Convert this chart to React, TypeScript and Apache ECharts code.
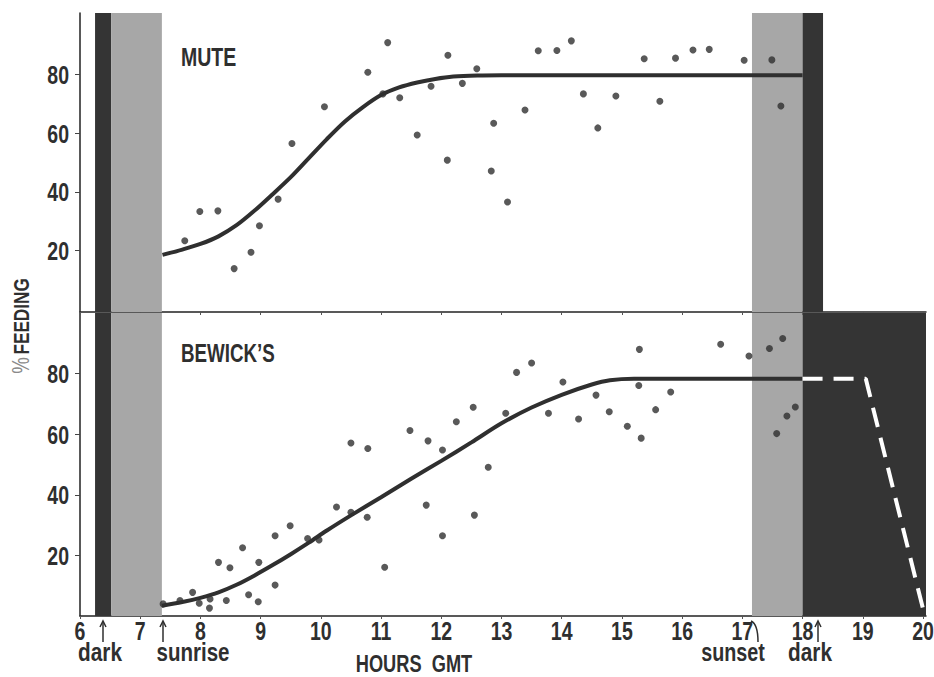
import React, { useEffect, useRef } from "react";
import * as echarts from "echarts";

const hourTicks = [6, 7, 8, 9, 10, 11, 12, 13, 14, 15, 16, 17, 18, 19, 20];
const pctTicks = [20, 40, 60, 80];

const mutePoints: number[][] = [
  [7.74, 23.3], [7.99, 33.3], [8.29, 33.5], [8.56, 13.8], [8.84, 19.4], [8.98, 28.4],
  [9.29, 37.5], [9.52, 56.5], [10.06, 69.0], [10.78, 80.8], [11.11, 90.9], [11.03, 73.4],
  [11.31, 72.1], [11.6, 59.4], [11.83, 76.0], [12.11, 86.6], [12.1, 50.8], [12.35, 77.0],
  [12.59, 82.0], [12.87, 63.4], [12.83, 47.1], [13.1, 36.5], [13.39, 67.9], [13.61, 88.1],
  [13.92, 88.2], [14.16, 91.5], [14.36, 73.4], [14.6, 61.8], [14.9, 72.7], [15.37, 85.4],
  [15.63, 70.9], [15.89, 85.6], [16.18, 88.4], [16.45, 88.6], [17.03, 84.9], [17.49, 85.0],
  [17.64, 69.3],
];

const bewickPoints: number[][] = [
  [7.38, 4.0], [7.66, 5.1], [7.87, 7.8], [7.98, 4.2], [8.15, 2.6], [8.16, 5.6], [8.3, 17.7],
  [8.43, 5.1], [8.49, 15.9], [8.7, 22.5], [8.8, 7.0], [8.96, 4.7], [8.97, 17.7], [9.24, 26.5],
  [9.24, 10.2], [9.49, 29.8], [9.78, 25.6], [9.97, 25.1], [10.26, 36.0], [10.5, 57.1],
  [10.5, 34.2], [10.78, 55.3], [10.77, 32.6], [11.06, 16.1], [11.48, 61.2], [11.78, 57.8],
  [11.75, 36.6], [12.02, 54.8], [12.02, 26.5], [12.25, 64.1], [12.53, 68.9], [12.55, 33.3],
  [12.78, 49.1], [13.07, 66.9], [13.25, 80.4], [13.5, 83.5], [13.78, 66.9], [14.02, 77.2],
  [14.28, 65.0], [14.57, 72.9], [14.79, 67.4], [15.09, 62.6], [15.29, 88.0], [15.28, 76.1],
  [15.32, 58.7], [15.56, 68.1], [15.81, 73.9], [16.64, 89.7], [17.11, 85.8], [17.45, 88.3],
  [17.67, 91.6], [17.57, 60.2], [17.74, 66.0], [17.88, 69.0],
];

const muteCurve: number[][] = [
  [7.37, 18.5], [7.7, 20.3], [8.0, 22.2], [8.3, 24.8], [8.6, 28.6], [8.9, 33.6], [9.2, 39.2],
  [9.5, 45.0], [9.8, 51.5], [10.1, 58.0], [10.4, 64.0], [10.7, 68.9], [11.0, 73.0], [11.3, 75.6],
  [11.6, 77.3], [11.9, 78.5], [12.2, 79.3], [12.6, 79.7], [13.0, 79.8], [18.0, 79.8],
];

const bewickCurve: number[][] = [
  [7.36, 3.4], [7.7, 4.6], [8.0, 6.0], [8.3, 7.8], [8.6, 10.3], [8.9, 13.4], [9.2, 16.8],
  [9.5, 20.4], [9.8, 24.2], [10.1, 28.2], [10.5, 33.2], [11.0, 39.2], [11.5, 45.3], [12.0, 51.2],
  [12.5, 57.3], [13.0, 63.6], [13.5, 68.8], [14.0, 73.0], [14.5, 76.4], [14.8, 77.8], [15.2, 78.3],
  [18.0, 78.3],
];

const bewickProjected: number[][] = [[18.0, 78.3], [19.05, 78.3], [20.03, 0]];

const darkMorning = [6.25, 6.52];
const twilightMorning = [6.52, 7.36];
const twilightEvening = [17.16, 18.0];
const darkEveningMute = [18.0, 18.34];
const darkEveningBewick = [18.0, 20.05];

const FONT = "'Liberation Sans', Arial, sans-serif";
const INK = "#2f2f2f";
const DARK = "#343434";
const GREY = "#a7a7a7";
const SQUEEZE = 0.78;

export default function App() {
  const ref = useRef<HTMLDivElement>(null);
  useEffect(() => {
    if (!ref.current) return;
    const chart = echarts.init(ref.current, undefined, { renderer: "svg" });

    const band = (r: number[], color: string) => [
      { xAxis: r[0], itemStyle: { color } },
      { xAxis: r[1] },
    ];

    const xAxisBase = {
      type: "value",
      min: 6,
      max: 20.05,
      splitLine: { show: false },
      axisLabel: { show: false },
      axisLine: { show: true, onZero: false, lineStyle: { color: "#222", width: 1.5 } },
      axisTick: { show: true, length: 3, customValues: hourTicks, lineStyle: { color: "#555" } },
    };
    const yAxisBase = {
      type: "value",
      splitLine: { show: false },
      axisLine: { show: true, lineStyle: { color: "#222", width: 1.5 } },
      axisTick: { show: true, length: 5, customValues: pctTicks, lineStyle: { color: "#444" } },
      axisLabel: { show: false },
    };

    const option: any = {
      animation: false,
      backgroundColor: "#fff",
      grid: [
        { left: 80, right: 8, top: 13, height: 299, outerBoundsMode: "none" },
        { left: 80, right: 8, top: 313, height: 303, outerBoundsMode: "none" },
      ],
      xAxis: [
        { ...xAxisBase, gridIndex: 0 },
        { ...xAxisBase, gridIndex: 1 },
      ],
      yAxis: [
        { ...yAxisBase, gridIndex: 0, min: -1, max: 101 },
        { ...yAxisBase, gridIndex: 1, min: 0, max: 100 },
      ],
      series: [
        {
          type: "scatter", xAxisIndex: 0, yAxisIndex: 0, data: [], z: 1, silent: true,
          markArea: {
            silent: true, label: { show: false },
            data: [band(darkMorning, DARK), band(twilightMorning, GREY), band(twilightEvening, GREY), band(darkEveningMute, DARK)],
          },
        },
        {
          type: "scatter", xAxisIndex: 1, yAxisIndex: 1, data: [], z: 1, silent: true,
          markArea: {
            silent: true, label: { show: false },
            data: [band(darkMorning, DARK), band(twilightMorning, GREY), band(twilightEvening, GREY), band(darkEveningBewick, DARK)],
          },
        },
        {
          name: "Mute trend", type: "line", xAxisIndex: 0, yAxisIndex: 0, data: muteCurve,
          showSymbol: false, smooth: 0.3, z: 3, lineStyle: { color: INK, width: 4 },
        },
        {
          name: "Mute", type: "scatter", xAxisIndex: 0, yAxisIndex: 0, data: mutePoints,
          symbolSize: 7, z: 4, itemStyle: { color: INK },
        },
        {
          name: "Bewick trend", type: "line", xAxisIndex: 1, yAxisIndex: 1, data: bewickCurve,
          showSymbol: false, smooth: 0.3, z: 3, lineStyle: { color: INK, width: 4 },
        },
        {
          name: "Bewick projected", type: "line", xAxisIndex: 1, yAxisIndex: 1, data: bewickProjected,
          showSymbol: false, z: 3, lineStyle: { color: "#ffffff", width: 4, type: [20, 11] },
        },
        {
          name: "Bewick", type: "scatter", xAxisIndex: 1, yAxisIndex: 1, data: bewickPoints,
          symbolSize: 7, z: 4, itemStyle: { color: INK },
        },
      ],
    };

    chart.setOption(option);

    // condensed bold text (the page has no condensed face, so squeeze horizontally)
    const txt = (text: string, x: number, y: number, align: string, size = 25, s = SQUEEZE) => ({
      type: "text",
      x,
      y,
      scaleX: s,
      z: 50,
      style: { text, fill: INK, font: `bold ${size}px ${FONT}`, align, verticalAlign: "middle" },
    });

    const xPix = (v: number, i: number) => chart.convertToPixel({ xAxisIndex: i } as any, v) as number;
    const yPix = (v: number, i: number) => chart.convertToPixel({ yAxisIndex: i } as any, v) as number;

    const axisBottom = yPix(0, 1);
    const xLabels = hourTicks.map((h) => txt(String(h), xPix(h, 1), axisBottom + 16, "center"));
    const yLabels = [0, 1].flatMap((g) =>
      pctTicks.map((v) => txt(String(v), xPix(6, g) - 11, yPix(v, g) + 1, "right"))
    );

    const arrowUp = (x: number) => [
      { type: "line", shape: { x1: x, y1: 622, x2: x, y2: 642 }, style: { stroke: INK, lineWidth: 1.5 } },
      { type: "polyline", shape: { points: [[x - 3, 627], [x, 621], [x + 3, 627]] }, style: { stroke: INK, lineWidth: 1.5, fill: "none" } },
    ];

    chart.setOption({
      graphic: [
        ...xLabels,
        ...yLabels,
        txt("MUTE", 181, 57, "left", 26, 0.75),
        txt("BEWICK\u2019S", 181, 354, "left", 25, 0.75),
        txt("HOURS  GMT", 414, 664, "center", 24, 0.76),
        txt("dark", 100, 652, "center", 26, 0.8),
        txt("sunrise", 193, 652, "center", 26, 0.79),
        txt("sunset", 733, 652, "center", 26, 0.76),
        txt("dark", 810, 652, "center", 26, 0.8),
        {
          type: "text",
          x: 21,
          y: 326,
          rotation: Math.PI / 2,
          scaleX: 0.78,
          style: {
            text: "{p|%} {t|FEEDING}",
            align: "center",
            verticalAlign: "middle",
            rich: {
              p: { fontFamily: FONT, fontSize: 24, fill: "#8a8a8a", fontWeight: "normal" },
              t: { fontFamily: FONT, fontSize: 22, fontWeight: "bold", fill: INK },
            },
          },
        },
        ...arrowUp(103),
        ...arrowUp(163),
        ...arrowUp(818),
        {
          type: "bezierCurve",
          shape: { x1: 751, y1: 621, cpx1: 758, cpy1: 624, x2: 758, y2: 642 },
          style: { stroke: INK, lineWidth: 1.5, fill: "none" },
        },
      ],
    });

    return () => chart.dispose();
  }, []);

  return (
    <div ref={ref} style={{ position: "fixed", left: 0, top: 0, width: 934, height: 677, background: "#fff" }} />
  );
}
